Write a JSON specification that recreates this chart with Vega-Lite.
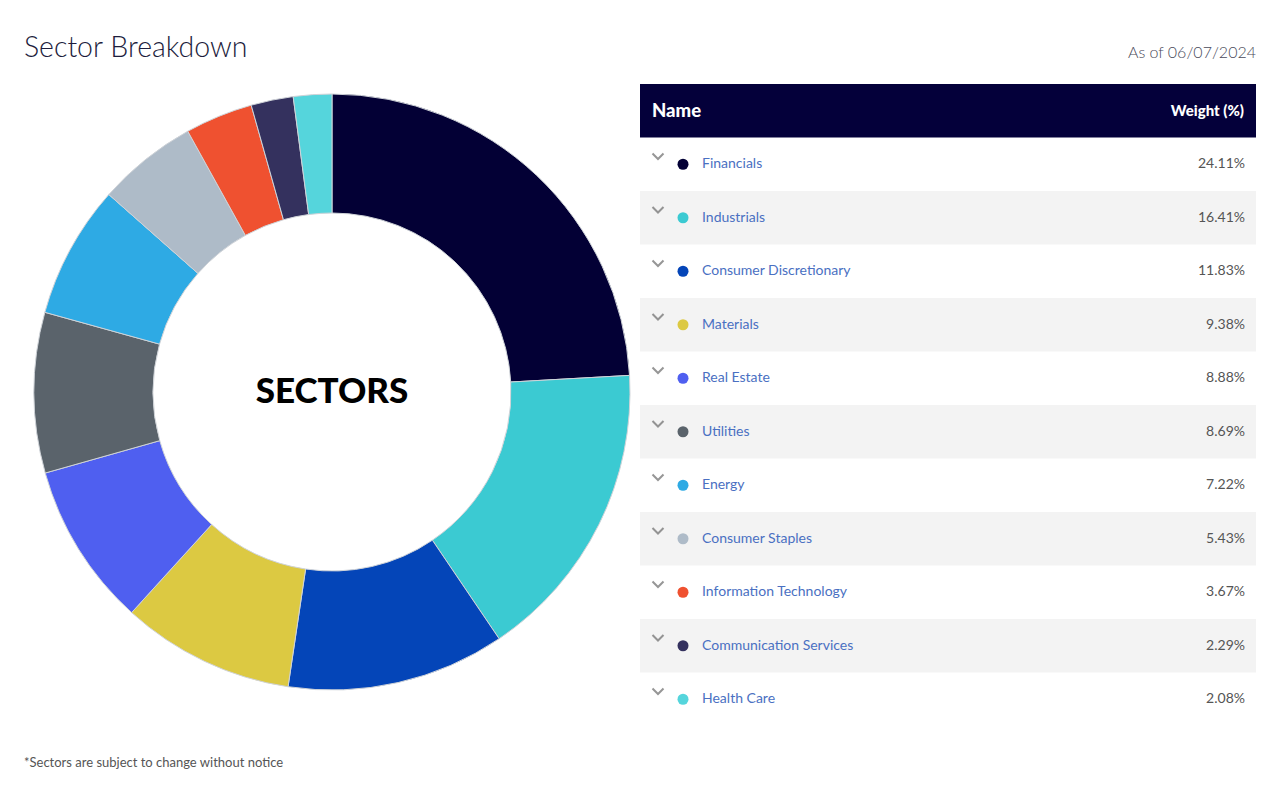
{
  "$schema": "https://vega.github.io/schema/vega-lite/v6.json",
  "background": "white",
  "padding": {"left": 24, "top": 33, "right": 24, "bottom": 0},
  "bounds": "flush",
  "spacing": 0,
  "datasets": {
    "sectors": [
      {"name": "Financials", "weight": 24.11},
      {"name": "Industrials", "weight": 16.41},
      {"name": "Consumer Discretionary", "weight": 11.83},
      {"name": "Materials", "weight": 9.38},
      {"name": "Real Estate", "weight": 8.88},
      {"name": "Utilities", "weight": 8.69},
      {"name": "Energy", "weight": 7.22},
      {"name": "Consumer Staples", "weight": 5.43},
      {"name": "Information Technology", "weight": 3.67},
      {"name": "Communication Services", "weight": 2.29},
      {"name": "Health Care", "weight": 2.08}
    ]
  },
  "config": {
    "view": {"stroke": null},
    "font": "Lato"
  },
  "hconcat": [
    {
      "width": 616,
      "height": 616,
      "title": {"text": "Sector Breakdown", "anchor": "start", "font": "Lato", "fontSize": 28.5, "fontWeight": 300, "color": "#1c1c3c", "offset": 22},
      "layer": [
        {
          "data": {"name": "sectors"},
          "mark": {"type": "arc", "outerRadius": 298, "innerRadius": 179, "stroke": "#cfd3d8", "strokeWidth": 1},
          "encoding": {
            "theta": {"field": "weight", "type": "quantitative", "stack": true},
            "order": {"field": "weight", "type": "quantitative", "sort": "descending"},
            "color": {
              "field": "name", "type": "nominal", "legend": null,
              "scale": {
                "domain": ["Financials", "Industrials", "Consumer Discretionary", "Materials", "Real Estate", "Utilities", "Energy", "Consumer Staples", "Information Technology", "Communication Services", "Health Care"],
                "range": ["#030035", "#3bcad2", "#0445b8", "#dcc942", "#4f5ff0", "#5a636b", "#2eaae4", "#aebbc8", "#ef5130", "#34315e", "#55d5dc"]
              }
            }
          }
        },
        {
          "data": {"values": [{"label": "SECTORS"}]},
          "mark": {"type": "text", "font": "Lato", "fontWeight": 900, "fontSize": 35, "color": "#000000", "align": "center", "baseline": "middle"},
          "encoding": {"text": {"field": "label", "type": "nominal"}}
        },
        {
          "data": {"values": [{"note": "*Sectors are subject to change without notice"}]},
          "mark": {"type": "text", "align": "left", "baseline": "middle", "font": "Lato", "fontSize": 13, "color": "#555555"},
          "encoding": {
            "x": {"value": 0},
            "y": {"value": 679},
            "text": {"field": "note", "type": "nominal"}
          }
        }
      ]
    },
    {
      "width": 616,
      "height": 642,
      "title": {"text": "As of 06/07/2024", "anchor": "end", "font": "Lato", "fontSize": 16, "fontWeight": 300, "color": "#4a4a5a", "offset": 23},
      "layer": [
        {
          "data": {"values": [{"row": "Name", "left": "Name", "right": "Weight (%)"}]},
          "mark": {"type": "rect", "fill": "#04003a"},
          "encoding": {
            "y": {"field": "row", "type": "nominal", "axis": null, "scale": {"domain": ["Name", "Financials", "Industrials", "Consumer Discretionary", "Materials", "Real Estate", "Utilities", "Energy", "Consumer Staples", "Information Technology", "Communication Services", "Health Care"], "paddingInner": 0, "paddingOuter": 0}},
            "x": {"value": 0},
            "x2": {"value": "width"}
          }
        },
        {
          "data": {"values": [{"row": "Name", "left": "Name", "right": "Weight (%)"}]},
          "mark": {"type": "text", "align": "left", "baseline": "middle", "font": "Lato", "fontWeight": 900, "fontSize": 18.5, "color": "#ffffff", "dx": 12},
          "encoding": {
            "y": {"field": "row", "type": "nominal", "axis": null},
            "x": {"value": 0},
            "text": {"field": "left", "type": "nominal"}
          }
        },
        {
          "data": {"values": [{"row": "Name", "left": "Name", "right": "Weight (%)"}]},
          "mark": {"type": "text", "align": "right", "baseline": "middle", "font": "Lato", "fontWeight": 900, "fontSize": 15, "color": "#ffffff", "dx": -12},
          "encoding": {
            "y": {"field": "row", "type": "nominal", "axis": null},
            "x": {"value": "width"},
            "text": {"field": "right", "type": "nominal"}
          }
        },
        {
          "data": {"name": "sectors"},
          "transform": [
            {"window": [{"op": "row_number", "as": "i"}]},
            {"filter": "datum.i % 2 == 0"}
          ],
          "mark": {"type": "rect", "fill": "#f3f3f3"},
          "encoding": {
            "y": {"field": "name", "type": "nominal", "axis": null},
            "x": {"value": 0},
            "x2": {"value": "width"}
          }
        },
        {
          "data": {"name": "sectors"},
          "mark": {"type": "point", "shape": "M-1,-0.5L0,0.5L1,-0.5", "filled": false, "stroke": "#6b6b6b", "strokeWidth": 2, "size": 121, "yOffset": -8},
          "encoding": {
            "y": {"field": "name", "type": "nominal", "axis": null},
            "x": {"value": 18}
          }
        },
        {
          "data": {"name": "sectors"},
          "mark": {"type": "point", "shape": "circle", "filled": true, "opacity": 1, "size": 121},
          "encoding": {
            "y": {"field": "name", "type": "nominal", "axis": null},
            "x": {"value": 43},
            "color": {"field": "name", "type": "nominal", "legend": null}
          }
        },
        {
          "data": {"name": "sectors"},
          "mark": {"type": "text", "align": "left", "baseline": "middle", "font": "Lato", "fontSize": 14, "color": "#4a70c2"},
          "encoding": {
            "y": {"field": "name", "type": "nominal", "axis": null},
            "x": {"value": 62},
            "text": {"field": "name", "type": "nominal"}
          }
        },
        {
          "data": {"name": "sectors"},
          "transform": [{"calculate": "format(datum.weight, '.2f') + '%'", "as": "label"}],
          "mark": {"type": "text", "align": "right", "baseline": "middle", "font": "Lato", "fontSize": 14, "color": "#555555"},
          "encoding": {
            "y": {"field": "name", "type": "nominal", "axis": null},
            "x": {"value": 605},
            "text": {"field": "label", "type": "nominal"}
          }
        }
      ]
    }
  ]
}
